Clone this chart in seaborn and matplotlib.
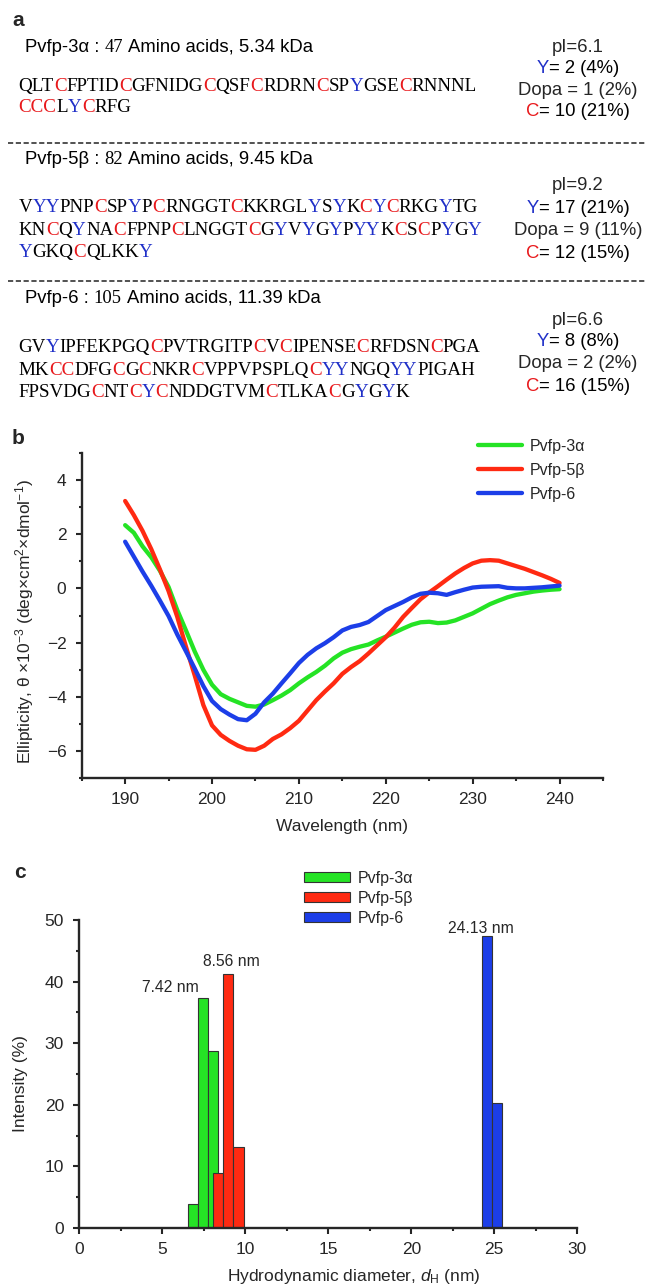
import numpy as np
import pandas as pd
import matplotlib
matplotlib.use("Agg")
import matplotlib.pyplot as plt
import seaborn as sns
from matplotlib.ticker import MultipleLocator

# ---------------- data ----------------
proteins = ["Pvfp-3α", "Pvfp-5β", "Pvfp-6"]
aa_counts = ["47", "82", "105"]
masses = ["5.34", "9.45", "11.39"]
sequences = [
    ["QLTCFPTIDCGFNIDGCQSFCRDRNCSPYGSECRNNNL", "CCCLYCRFG"],
    ["VYYPNPCSPYPCRNGGTCKKRGLYSYKCYCRKGYTG",
     "KNCQYNACFPNPCLNGGTCGYVYGYPYYKCSCPYGY",
     "YGKQCQLKKY"],
    ["GVYIPFEKPGQCPVTRGITPCVCIPENSECRFDSNCPGA",
     "MKCCDFGCGCNKRCVPPVPSPLQCYYNGQYYPIGAH",
     "FPSVDGCNTCYCNDDGTVMCTLKACGYGYK"],
]
pI_values = ["6.1", "9.2", "6.6"]
tyr_counts = ["2 (4%)", "17 (21%)", "8 (8%)"]
dopa_counts = ["1 (2%)", "9 (11%)", "2 (2%)"]
cys_counts = ["10 (21%)", "12 (15%)", "16 (15%)"]

wavelength = list(range(190, 241))
cd_3a = [2.33, 2.05, 1.55, 1.15, 0.65, 0.05, -0.80, -1.55, -2.32, -3.00,
         -3.55, -3.90, -4.07, -4.20, -4.33, -4.36, -4.28, -4.12, -3.95, -3.75,
         -3.50, -3.28, -3.08, -2.85, -2.58, -2.37, -2.24, -2.15, -2.07, -1.92,
         -1.78, -1.63, -1.48, -1.34, -1.25, -1.23, -1.28, -1.26, -1.18, -1.05,
         -0.92, -0.75, -0.58, -0.45, -0.33, -0.24, -0.18, -0.12, -0.08, -0.05,
         -0.03]
cd_5b = [3.22, 2.70, 2.12, 1.45, 0.70, -0.10, -1.05, -2.15, -3.20, -4.30,
         -5.05, -5.40, -5.62, -5.80, -5.93, -5.95, -5.80, -5.55, -5.38, -5.15,
         -4.88, -4.50, -4.12, -3.80, -3.50, -3.15, -2.90, -2.68, -2.40, -2.10,
         -1.80, -1.45, -1.05, -0.72, -0.40, -0.15, 0.08, 0.32, 0.55, 0.75,
         0.92, 1.02, 1.04, 1.02, 0.92, 0.82, 0.72, 0.60, 0.48, 0.35,
         0.20]
cd_6 = [1.72, 1.17, 0.62, 0.10, -0.45, -1.02, -1.70, -2.32, -2.95, -3.60,
        -4.15, -4.45, -4.65, -4.82, -4.86, -4.62, -4.20, -3.88, -3.50, -3.13,
        -2.75, -2.45, -2.21, -2.02, -1.80, -1.55, -1.42, -1.35, -1.24, -1.02,
        -0.80, -0.65, -0.50, -0.33, -0.20, -0.16, -0.18, -0.24, -0.14, -0.05,
        0.03, 0.06, 0.07, 0.08, 0.02, 0.00, 0.00, 0.02, 0.04, 0.07,
        0.10]

dls_3a_size = [6.85, 7.46, 8.07]
dls_3a_int = [3.9, 37.4, 28.7]
dls_5b_size = [8.37, 8.98, 9.59]
dls_5b_int = [8.9, 41.2, 13.2]
dls_6_size = [24.54, 25.15]
dls_6_int = [47.4, 20.3]
peak_labels = ["7.42 nm", "8.56 nm", "24.13 nm"]
peak_label_x = [5.47, 9.18, 24.2]
peak_label_y = [39.1, 43.2, 48.7]

# ---------------- style ----------------
sns.set_style("ticks")
plt.rcParams["font.family"] = ["Liberation Sans", "DejaVu Sans"]
plt.rcParams["mathtext.fontset"] = "custom"
plt.rcParams["mathtext.rm"] = "Liberation Sans"
plt.rcParams["mathtext.it"] = "Liberation Sans:italic"
plt.rcParams["axes.linewidth"] = 1.7

GREEN, RED, BLUE = "#25e325", "#ff2a12", "#1c3ee8"
TXT_RED, TXT_BLUE = "#e8191c", "#2030c8"
SANS = ["Liberation Sans", "DejaVu Sans"]
SERIF = ["Liberation Serif", "DejaVu Serif"]

W, H = 646, 1285
DPI = 100
fig = plt.figure(figsize=(W / DPI, H / DPI), dpi=DPI)
renderer = fig.canvas.get_renderer()

# ---------------- panel a (pixel coordinate overlay) ----------------
ax0 = fig.add_axes([0, 0, 1, 1])
ax0.set_xlim(0, W)
ax0.set_ylim(H, 0)
ax0.axis("off")
ax0.patch.set_alpha(0)

def measure(s, fam, size):
    t = ax0.text(0, 0, s, family=fam, fontsize=size)
    w = t.get_window_extent(renderer).width
    t.remove()
    return w

def draw_runs(x, y, runs, size, ha="left"):
    """runs: list of (text, color, family, gap_pt); each run is chained
    to the right edge of the previous one."""
    if ha == "center":
        x = x - measure("".join(r[0] for r in runs), runs[0][2], size) / 2
    s, col, fam, _ = runs[0]
    prev = ax0.text(x, y, s, color=col, family=fam, fontsize=size,
                    va="baseline", ha="left")
    for s, col, fam, gap in runs[1:]:
        prev = ax0.annotate(s, xy=(1, y), xycoords=(prev, "data"),
                            xytext=(gap, 0), textcoords="offset points",
                            color=col, family=fam, fontsize=size,
                            va="baseline", ha="left")

def seq_runs(s):
    runs = []
    for ch in s:
        col = TXT_RED if ch == "C" else TXT_BLUE if ch == "Y" else "black"
        if runs and runs[-1][1] == col:
            runs[-1][0] += ch
        else:
            runs.append([ch, col, SERIF, 0])
    return runs

ax0.text(12, 20, "a", fontsize=15, fontweight="bold", va="center", ha="left")
ax0.text(12, 438, "b", fontsize=15, fontweight="bold", va="center", ha="left")
ax0.text(14, 872, "c", fontsize=15, fontweight="bold", va="center", ha="left")

header_y = [45, 157, 296]
seq_y = [[85, 106], [206, 228.6, 251], [346, 368.6, 391]]
stat_y = [[45, 66, 88, 109], [183.5, 206, 228.6, 251], [318, 339, 361.7, 384]]
SZ_A, SZ_SEQ = 13.3, 13.7
SP = 0.278 * SZ_A
for i in range(3):
    draw_runs(24.8, header_y[i] + 6.6,
              [(proteins[i] + " :", "black", SANS, 0),
               (aa_counts[i], "black", SERIF, SP),
               ("Amino acids, " + masses[i] + " kDa", "black", SANS, SP)], SZ_A)
    for line, yy in zip(sequences[i], seq_y[i]):
        draw_runs(18.6, yy + 6.3, seq_runs(line), SZ_SEQ)
    sx = 578
    sy = stat_y[i]
    ax0.text(sx, sy[0] + 6.6, "pI=" + pI_values[i], fontsize=SZ_A,
             va="baseline", ha="center")
    draw_runs(sx, sy[1] + 6.6, [("Y", TXT_BLUE, SANS, 0),
                                ("= " + tyr_counts[i], "black", SANS, 0)], SZ_A, "center")
    ax0.text(sx, sy[2] + 6.6, "Dopa = " + dopa_counts[i], fontsize=SZ_A,
             va="baseline", ha="center")
    draw_runs(sx, sy[3] + 6.6, [("C", TXT_RED, SANS, 0),
                                ("= " + cys_counts[i], "black", SANS, 0)], SZ_A, "center")

for yy in [143, 281]:
    ax0.plot([8, W], [yy, yy], color="#222222", lw=1.1, ls=(0, (3.4, 1.7)))

# ---------------- panel b ----------------
def px_axes(left, right, top, bottom):
    return fig.add_axes([left / W, 1 - bottom / H, (right - left) / W, (bottom - top) / H])

axb = px_axes(81.7, 603, 452.7, 778.3)
cd_df = pd.DataFrame({
    "Wavelength": wavelength * 3,
    "Ellipticity": cd_3a + cd_5b + cd_6,
    "Protein": [proteins[0]] * len(wavelength) + [proteins[1]] * len(wavelength)
               + [proteins[2]] * len(wavelength),
})
sns.lineplot(data=cd_df, x="Wavelength", y="Ellipticity", hue="Protein",
             palette=[GREEN, RED, BLUE], linewidth=3.1, ax=axb)
axb.set_xlim(185, 245)
axb.set_ylim(-7, 5)
axb.xaxis.set_major_locator(MultipleLocator(10))
axb.xaxis.set_minor_locator(MultipleLocator(5))
axb.yaxis.set_major_locator(MultipleLocator(2))
axb.yaxis.set_minor_locator(MultipleLocator(1))
axb.set_xticks([190, 200, 210, 220, 230, 240])
axb.set_xlabel("Wavelength (nm)", fontsize=12.5, va="center")
axb.set_ylabel(r"Ellipticity, θ ×10$^{-3}$ (deg×cm$^{2}$×dmol$^{-1}$)", fontsize=12.5, va="center")
axb.xaxis.set_label_coords(0.5, -0.148)
axb.yaxis.set_label_coords(-0.1097, 0.48)
h, l = axb.get_legend_handles_labels()
axb.legend(h, l, loc="upper left", bbox_to_anchor=(478 / W, 1 - 439 / H),
           bbox_transform=fig.transFigure, frameon=False, fontsize=11.5,
           handlelength=2.75, handletextpad=0.5, labelspacing=0.55,
           borderpad=0, borderaxespad=0)

# ---------------- panel c ----------------
axc = px_axes(79.3, 577.3, 920, 1228)
for sz, it, col, name in [(dls_3a_size, dls_3a_int, GREEN, proteins[0]),
                          (dls_5b_size, dls_5b_int, RED, proteins[1]),
                          (dls_6_size, dls_6_int, BLUE, proteins[2])]:
    sns.barplot(x=sz, y=it, native_scale=True, orient="x", width=1.0,
                color=col, saturation=1, edgecolor="#333333", linewidth=0.8,
                errorbar=None, label=name, ax=axc)
for txt, xx, yy in zip(peak_labels, peak_label_x, peak_label_y):
    axc.text(xx, yy, txt, fontsize=11.3, ha="center", va="center")
axc.set_xlim(0, 30)
axc.set_ylim(0, 50)
axc.xaxis.set_major_locator(MultipleLocator(5))
axc.xaxis.set_minor_locator(MultipleLocator(2.5))
axc.yaxis.set_major_locator(MultipleLocator(10))
axc.yaxis.set_minor_locator(MultipleLocator(5))
axc.set_xlabel(r"Hydrodynamic diameter, $d_{\mathrm{H}}$ (nm)", fontsize=12.5, va="center")
axc.set_ylabel("Intensity (%)", fontsize=12.5, va="center")
axc.xaxis.set_label_coords(0.5516, -0.156)
axc.yaxis.set_label_coords(-0.119, 0.469)
h, l = axc.get_legend_handles_labels()
axc.legend(h, l, loc="upper left", bbox_to_anchor=(304 / W, 1 - 871 / H),
           bbox_transform=fig.transFigure, frameon=False, fontsize=11.5,
           handlelength=2.9, handleheight=0.6, handletextpad=0.45,
           labelspacing=0.3, borderpad=0, borderaxespad=0)

for ax in (axb, axc):
    sns.despine(ax=ax)
    ax.tick_params(axis="both", which="major", direction="out", length=4,
                   width=1.5, labelsize=12.5, pad=6)
    ax.tick_params(axis="both", which="minor", direction="out", length=2.5,
                   width=1.5)
    ax.tick_params(axis="y", which="major", pad=7)
    ax.grid(False)

fig.savefig("out.png", dpi=DPI)
